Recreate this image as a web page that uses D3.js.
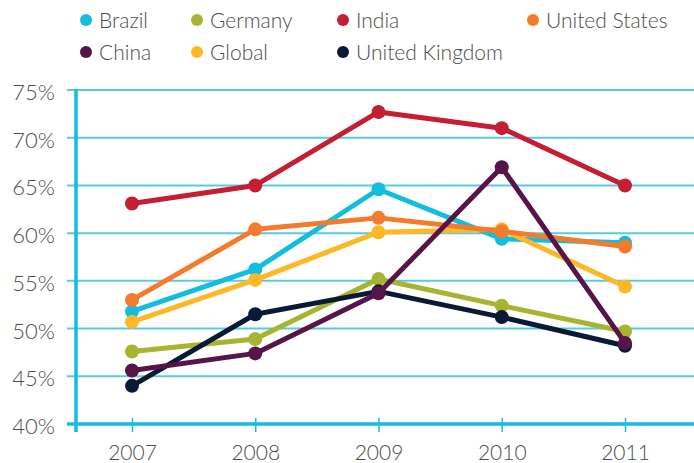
<!DOCTYPE html>
<html>
<head>
<meta charset="utf-8">
<script src="https://cdn.jsdelivr.net/npm/d3@7"></script>
<style>
  html, body { margin: 0; padding: 0; background: #fff; }
  svg text { font-family: Lato, "Open Sans", sans-serif; font-weight: 300; fill: #4d4d4d; }
</style>
</head>
<body>
<div id="chart"></div>
<script>
// --- data ---
const years = [2007, 2008, 2009, 2010, 2011];
const yTicks = [40, 45, 50, 55, 60, 65, 70, 75];

const brazil  = [51.8, 56.2, 64.6, 59.4, 59.0];
const germany = [47.6, 48.9, 55.2, 52.4, 49.7];
const india   = [63.1, 65.0, 72.7, 71.0, 65.0];
const usa     = [53.0, 60.4, 61.6, 60.2, 58.6];
const china   = [45.6, 47.4, 53.7, 66.9, 48.5];
const global  = [50.7, 55.1, 60.1, 60.4, 54.4];
const uk      = [44.0, 51.5, 53.9, 51.2, 48.2];

// legend order (two rows, four columns)
const legendOrder = ["Brazil", "Germany", "India", "United States", "China", "Global", "United Kingdom"];

const series = [
  { name: "Brazil", values: brazil, color: "#14bde0" },
  { name: "Germany", values: germany, color: "#a7b431" },
  { name: "Global", values: global, color: "#fdb827" },
  { name: "United States", values: usa, color: "#f47b2b" },
  { name: "India", values: india, color: "#c41e32" },
  { name: "United Kingdom", values: uk, color: "#0a1a36" },
  { name: "China", values: china, color: "#561449" }
];
const colorOf = Object.fromEntries(series.map(s => [s.name, s.color]));

// --- layout ---
const width = 694, height = 463;
const axisX = 76, axisY = 424;

const svg = d3.select("#chart").append("svg")
  .attr("width", width)
  .attr("height", height);

const x = d3.scaleLinear().domain([2007, 2011]).range([132, 625]);
const y = d3.scaleLinear().domain([40, 75]).range([axisY, 90]);

// gridlines
svg.append("g").selectAll("line")
  .data(yTicks.filter(t => t > 40))
  .join("line")
  .attr("x1", 67).attr("x2", width)
  .attr("y1", d => y(d)).attr("y2", d => y(d))
  .attr("stroke", "#55cbe6").attr("stroke-width", 2);

// y labels
svg.append("g").selectAll("text")
  .data(yTicks)
  .join("text")
  .attr("x", 55)
  .attr("y", d => y(d) + 10)
  .attr("text-anchor", "end")
  .style("font-size", "22px")
  .text(d => d + "%");

// x axis with ticks
const xAxis = svg.append("g")
  .attr("transform", `translate(0,${axisY})`)
  .call(d3.axisBottom(x).tickValues(years).tickFormat(d3.format("d")).tickSize(8).tickSizeOuter(0));
xAxis.select(".domain").remove();
xAxis.selectAll(".tick line")
  .attr("y1", -6).attr("y2", 8)
  .attr("stroke", "#14bde0").attr("stroke-width", 1.5);
xAxis.selectAll(".tick text")
  .attr("y", 21)
  .style("font-size", "21px")
  .style("font-family", "Lato, 'Open Sans', sans-serif")
  .style("font-weight", 300)
  .attr("fill", "#4d4d4d");

svg.append("line")
  .attr("x1", 67).attr("x2", width)
  .attr("y1", axisY).attr("y2", axisY)
  .attr("stroke", "#14bde0").attr("stroke-width", 3.5);
svg.append("line")
  .attr("x1", axisX).attr("x2", axisX)
  .attr("y1", y(75) - 1).attr("y2", axisY + 8)
  .attr("stroke", "#14bde0").attr("stroke-width", 3.5);

// lines + dots
const line = d3.line()
  .x((d, i) => x(years[i]))
  .y(d => y(d));

series.forEach(s => {
  const g = svg.append("g");
  g.append("path")
    .attr("d", line(s.values))
    .attr("fill", "none")
    .attr("stroke", s.color)
    .attr("stroke-width", 5)
    .attr("stroke-linejoin", "round");
  g.selectAll("circle")
    .data(s.values)
    .join("circle")
    .attr("cx", (d, i) => x(years[i]))
    .attr("cy", d => y(d))
    .attr("r", 7)
    .attr("fill", s.color);
});

// legend
const legendCols = [86, 197, 343, 533];
const legendRows = [20, 52];
const legend = svg.append("g").selectAll("g")
  .data(legendOrder)
  .join("g")
  .attr("transform", (d, i) => `translate(${legendCols[i % 4]},${legendRows[Math.floor(i / 4)]})`);
legend.append("circle")
  .attr("r", 6)
  .attr("fill", d => colorOf[d]);
legend.append("text")
  .attr("x", 13)
  .attr("y", 7.5)
  .style("font-size", "21px")
  .text(d => d);
</script>
</body>
</html>
